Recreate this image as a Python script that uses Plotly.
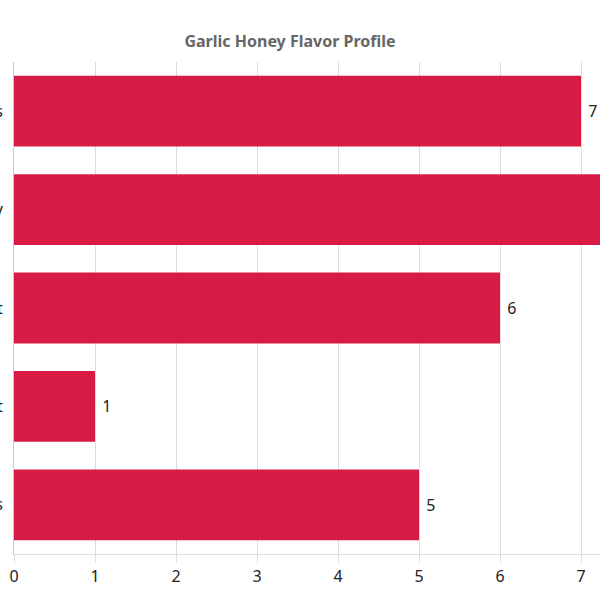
import plotly.graph_objects as go

# flavor attributes, top to bottom
attributes = ['Sweetness', 'Garlic Intensity', 'Pungent', 'Tart', 'Earthiness']
scores = [7, 8, 6, 1, 5]
x_ticks = [0, 1, 2, 3, 4, 5, 6, 7]

fig = go.Figure(go.Bar(
    x=scores,
    y=attributes,
    orientation='h',
    marker=dict(color='#D81B44', line=dict(width=0)),
    texttemplate='\u00a0%{x}',
    textposition='outside',
    textfont=dict(size=16, color='#222222'),
    cliponaxis=True,
))

fig.update_layout(
    width=600, height=600,
    margin=dict(l=14, r=0, t=62, b=46),
    paper_bgcolor='white',
    plot_bgcolor='white',
    font=dict(family='Noto Sans, Open Sans, sans-serif', size=16, color='#222222'),
    title=dict(
        text='<b>Garlic Honey Flavor Profile</b>',
        x=290 / 600, xanchor='center',
        y=1 - 41 / 600, yanchor='middle', yref='container',
        font=dict(size=16, color='#666666'),
    ),
    bargap=0.28,
    showlegend=False,
)

fig.update_xaxes(
    range=[0, 586 / 81],
    tickvals=x_ticks,
    showgrid=True, gridcolor='#dddddd', gridwidth=1,
    zeroline=False,
    showline=True, linecolor='#dddddd', linewidth=1,
    ticks='outside', ticklen=8, tickcolor='#dddddd',
    tickfont=dict(size=16, color='#222222'),
    automargin=False,
)
fig.update_yaxes(
    autorange='reversed',
    showgrid=False,
    showline=True, linecolor='#cccccc', linewidth=1,
    ticks='',
    ticklabelstandoff=7,
    tickfont=dict(size=16, color='#222222'),
    automargin=False,
)

# drop the default page margin so the figure sits at the window's corner
fig.write_html("out.html", config={'displayModeBar': False},
               post_script="document.body.style.margin='0';")
